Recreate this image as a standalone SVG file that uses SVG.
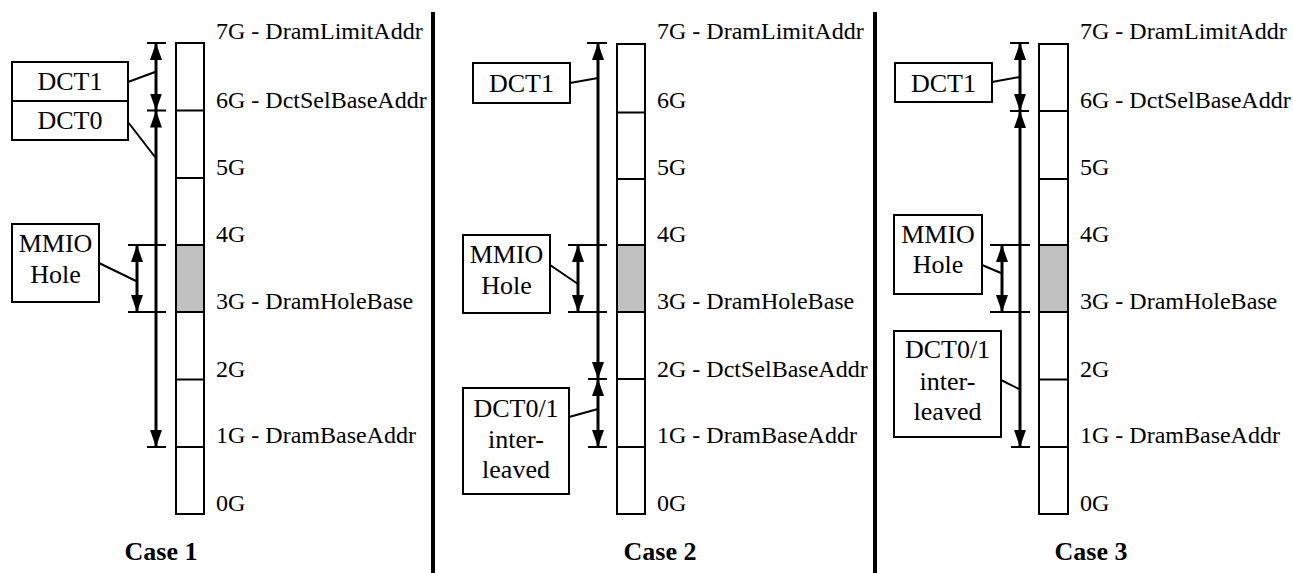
<svg xmlns="http://www.w3.org/2000/svg" width="1293" height="573" viewBox="0 0 1293 573">
<style>
text{font-family:"Liberation Serif","Times New Roman",serif;font-size:24px;fill:#000}
.c{text-anchor:middle;font-size:26px}
.b{font-weight:bold;text-anchor:middle;font-size:26px}
.box{fill:#fff;stroke:#000;stroke-width:2}
.col{fill:#fff;stroke:#000;stroke-width:2}
.hole{fill:#c0c0c0;stroke:none}
.ln{stroke:#000;stroke-width:2;fill:none}
.tk{stroke:#000;stroke-width:2}
.ar{stroke:#000;stroke-width:3;fill:none;marker-start:url(#ah);marker-end:url(#ah)}
.dv{stroke:#000;stroke-width:4}
</style>
<defs>
<marker id="ah" markerUnits="userSpaceOnUse" markerWidth="17" markerHeight="12" viewBox="0 0 17 12" refX="17" refY="6" orient="auto-start-reverse">
<path d="M0,0 L17,6 L0,12 z" fill="#000"/>
</marker>
</defs>

<g id="dividers">
<line class="dv" x1="433" y1="12" x2="433" y2="573"/>
<line class="dv" x1="875" y1="12" x2="875" y2="573"/>
</g>

<!-- Case 1 -->
<g id="case1-column">
<rect class="col" x="176" y="43" width="28" height="471"/>
<rect class="hole" x="177" y="245" width="26" height="67"/>
<path class="ln" d="M176,110.5H204M176,178H204M176,245H204M176,312H204M176,379.5H204M176,447H204"/>
<text x="216" y="39">7G - DramLimitAddr</text>
<text x="216" y="108">6G - DctSelBaseAddr</text>
<text x="216" y="175">5G</text>
<text x="216" y="242">4G</text>
<text x="216" y="309">3G - DramHoleBase</text>
<text x="216" y="377">2G</text>
<text x="216" y="443">1G - DramBaseAddr</text>
<text x="216" y="511">0G</text>
</g>
<g id="case1-dct1"><rect class="box" x="12" y="62" width="116" height="39"/><text class="c" x="70" y="90">DCT1</text></g>
<g id="case1-dct0"><rect class="box" x="12" y="101" width="116" height="39"/><text class="c" x="70" y="129">DCT0</text></g>
<g id="case1-mmio"><rect class="box" x="12" y="224" width="87" height="78"/><text class="c" x="55.5" y="252">MMIO</text><text class="c" x="55.5" y="283">Hole</text></g>
<text class="b" x="161" y="560">Case 1</text>

<!-- Case 2 -->
<g id="case2-column">
<rect class="col" x="617" y="44" width="28" height="470"/>
<rect class="hole" x="618" y="245" width="26" height="67"/>
<path class="ln" d="M617,112.5H645M617,179H645M617,245H645M617,312H645M617,379H645M617,447H645"/>
<text x="657" y="39">7G - DramLimitAddr</text>
<text x="657" y="108">6G</text>
<text x="657" y="175">5G</text>
<text x="657" y="242">4G</text>
<text x="657" y="309">3G - DramHoleBase</text>
<text x="657" y="377">2G - DctSelBaseAddr</text>
<text x="657" y="443">1G - DramBaseAddr</text>
<text x="657" y="511">0G</text>
</g>
<g id="case2-dct1"><rect class="box" x="473" y="63" width="97" height="40"/><text class="c" x="521.5" y="92">DCT1</text></g>
<g id="case2-mmio"><rect class="box" x="463" y="235" width="87" height="78"/><text class="c" x="506.5" y="263">MMIO</text><text class="c" x="506.5" y="294">Hole</text></g>
<g id="case2-dct01"><rect class="box" x="463" y="388" width="106" height="106"/><text class="c" x="516" y="417">DCT0/1</text><text class="c" x="516" y="448">inter-</text><text class="c" x="516" y="478">leaved</text></g>
<text class="b" x="660" y="560">Case 2</text>

<!-- Case 3 -->
<g id="case3-column">
<rect class="col" x="1039" y="44" width="29" height="470"/>
<rect class="hole" x="1040" y="245" width="27" height="67"/>
<path class="ln" d="M1039,111H1068M1039,179H1068M1039,245H1068M1039,312H1068M1039,379.5H1068M1039,447H1068"/>
<text x="1080" y="39">7G - DramLimitAddr</text>
<text x="1080" y="108">6G - DctSelBaseAddr</text>
<text x="1080" y="175">5G</text>
<text x="1080" y="242">4G</text>
<text x="1080" y="309">3G - DramHoleBase</text>
<text x="1080" y="377">2G</text>
<text x="1080" y="443">1G - DramBaseAddr</text>
<text x="1080" y="511">0G</text>
</g>
<g id="case3-dct1"><rect class="box" x="895" y="63" width="97" height="39"/><text class="c" x="943.5" y="92">DCT1</text></g>
<g id="case3-mmio"><rect class="box" x="894" y="215" width="88" height="79"/><text class="c" x="938" y="243">MMIO</text><text class="c" x="938" y="273">Hole</text></g>
<g id="case3-dct01"><rect class="box" x="894" y="331" width="107" height="106"/><text class="c" x="947.5" y="358">DCT0/1</text><text class="c" x="947.5" y="390">inter-</text><text class="c" x="947.5" y="420">leaved</text></g>
<text class="b" x="1091" y="560">Case 3</text>

<g id="connectors">
<!-- case 1 -->
<path class="tk" d="M147,43H166M147,110.5H166M147,447H166M128,245H166M128,312H166"/>
<line class="ar" x1="156" y1="43" x2="156" y2="110.5"/>
<line class="ar" x1="156" y1="110.5" x2="156" y2="447"/>
<line class="ar" x1="137" y1="245" x2="137" y2="312"/>
<path class="ln" d="M128,82L155,72M128,122L155,157M99,263L136,281"/>
<!-- case 2 -->
<path class="tk" d="M587,43H607M588,379H607M588,447H607M568,245H607M568,312H607"/>
<line class="ar" x1="598" y1="43" x2="598" y2="379"/>
<line class="ar" x1="598" y1="379" x2="598" y2="447"/>
<line class="ar" x1="578" y1="245" x2="578" y2="312"/>
<path class="ln" d="M570,83L598,78M550,265L578,284M569,417L598,409"/>
<!-- case 3 -->
<path class="tk" d="M1010,43H1029M1010,111H1029M1011,447H1030M990,245H1030M990,312H1030"/>
<line class="ar" x1="1020" y1="43" x2="1020" y2="111"/>
<line class="ar" x1="1020" y1="111" x2="1020" y2="447"/>
<line class="ar" x1="1002" y1="245" x2="1002" y2="312"/>
<path class="ln" d="M992,82L1020,77M982,265L1001,273M1001,380L1019,389"/>
</g>
</svg>
